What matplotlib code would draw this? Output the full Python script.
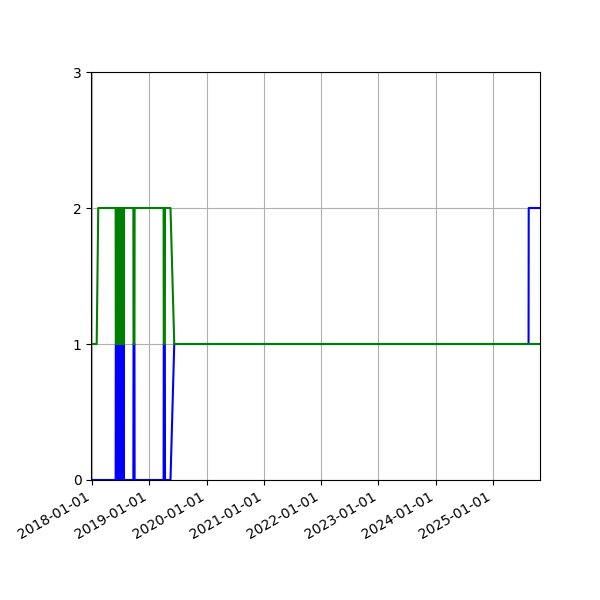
# two status series, daily-ish, plotted as plain lines

import numpy as np
import pandas as pd
import matplotlib
matplotlib.use("Agg")
import matplotlib.pyplot as plt
import matplotlib.dates as mdates

green_dates = ["2017-12-25", "2018-01-29", "2018-02-08", "2018-05-30", "2018-05-31",
               "2018-06-02", "2018-06-03", "2018-06-05", "2018-06-06", "2018-06-08",
               "2018-06-09", "2018-06-14", "2018-06-15", "2018-06-17", "2018-06-18",
               "2018-06-21", "2018-06-22", "2018-06-25", "2018-06-26", "2018-06-29",
               "2018-06-30", "2018-07-03", "2018-07-04", "2018-07-07", "2018-07-08",
               "2018-07-11", "2018-07-12", "2018-07-15", "2018-07-16", "2018-07-19",
               "2018-07-20", "2018-07-21", "2018-07-22", "2018-09-20", "2018-09-21",
               "2018-09-27", "2018-09-28", "2019-04-01", "2019-04-02", "2019-04-09",
               "2019-04-10", "2019-05-15", "2019-06-08", "2025-10-28"]
green_vals = [1, 1, 2, 2, 1,
              1, 2, 2, 1, 1,
              2, 2, 1, 1, 2,
              2, 1, 1, 2, 2,
              1, 1, 2, 2, 1,
              1, 2, 2, 1, 1,
              2, 1, 2, 2, 1,
              1, 2, 2, 1, 1,
              2, 2, 1, 1]

blue_dates = ["2017-12-25", "2018-05-30", "2018-05-31",
              "2018-06-02", "2018-06-03", "2018-06-05", "2018-06-06", "2018-06-08",
              "2018-06-09", "2018-06-14", "2018-06-15", "2018-06-17", "2018-06-18",
              "2018-06-21", "2018-06-22", "2018-06-25", "2018-06-26", "2018-06-29",
              "2018-06-30", "2018-07-03", "2018-07-04", "2018-07-07", "2018-07-08",
              "2018-07-11", "2018-07-12", "2018-07-15", "2018-07-16", "2018-07-19",
              "2018-07-20", "2018-07-21", "2018-07-22", "2018-09-20", "2018-09-21",
              "2018-09-27", "2018-09-28", "2019-04-01", "2019-04-02", "2019-04-09",
              "2019-04-10", "2019-05-15", "2019-06-08", "2025-08-16", "2025-08-17",
              "2025-10-28"]
blue_vals = [0, 0, 1,
             1, 0, 0, 1, 1,
             0, 0, 1, 1, 0,
             0, 1, 1, 0, 0,
             1, 1, 0, 0, 1,
             1, 0, 0, 1, 1,
             0, 1, 0, 0, 1,
             1, 0, 0, 1, 1,
             0, 0, 1, 1, 2,
             2]

green_x = pd.to_datetime(green_dates)
blue_x = pd.to_datetime(blue_dates)

fig, ax = plt.subplots(figsize=(6, 6), dpi=100)
ax.plot(blue_x, blue_vals, color="blue")
ax.plot(green_x, green_vals, color="green")

ax.set_xlim(blue_x[0], blue_x[-1])
ax.set_ylim(0, 3)
ax.set_yticks([0, 1, 2, 3])
ax.xaxis.set_major_locator(mdates.YearLocator())
ax.xaxis.set_major_formatter(mdates.DateFormatter("%Y-%m-%d"))
ax.grid(True)

fig.autofmt_xdate()
fig.subplots_adjust(left=0.152)
fig.savefig("out.png")
